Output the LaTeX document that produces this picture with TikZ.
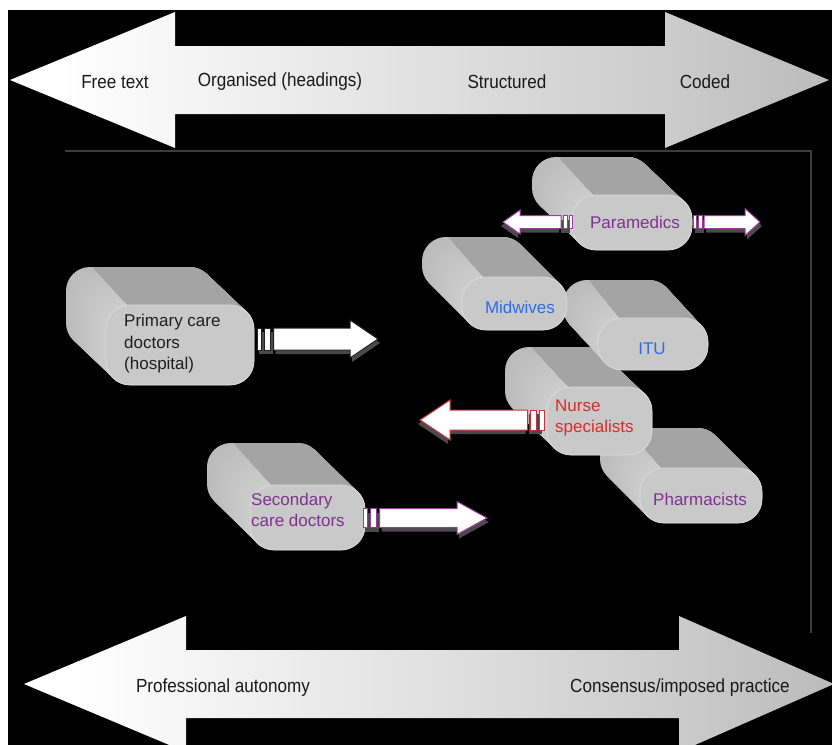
\documentclass[tikz,border=0pt]{standalone}
\usepackage{fontspec}
\setmainfont{Liberation Sans}
\newfontfamily\axisfont[FakeStretch=0.9]{Liberation Sans}
\usetikzlibrary{calc}

\definecolor{facegray}{HTML}{C9C9C9}
\definecolor{faceedge}{HTML}{DADADA}
\definecolor{topgray}{HTML}{A4A4A4}
\definecolor{sideback}{HTML}{BBBBBB}
\definecolor{sidefront}{HTML}{CDCDCD}
\definecolor{txtpurple}{HTML}{7E3290}
\definecolor{txtblue}{HTML}{2C6BF0}
\definecolor{txtred}{HTML}{DC2A2E}
\definecolor{arrpurple}{HTML}{9A3C9E}
\definecolor{arrred}{HTML}{C8303A}
\definecolor{arrdark}{HTML}{202020}
\definecolor{shadowgray}{HTML}{4A4A4A}
\definecolor{framegray}{HTML}{3C3C3C}

\pgfdeclarehorizontalshading{axisshade}{100bp}{color(0bp)=(white); color(28bp)=(white); color(65bp)=(white!80!black); color(100bp)=(white!57!black)}

\tikzset{
  face/.style={draw=faceedge, line width=0.8pt, fill=facegray, rounded corners=24pt,
               inner sep=0pt, outer sep=0pt, rectangle},
  lbl/.style={font=\fontsize{17}{21.5}\selectfont, inner sep=0pt},
  axlbl/.style={font=\axisfont\fontsize{19}{22}\selectfont, text=black!90, inner sep=0pt},
  framestyle/.style={draw=framegray, line width=1.2pt},
}

% #1 name, #2 x, #3 y, #4 w, #5 h, #6 dx, #7 dy
\newcommand\ehrblock[7]{%
  \foreach \k in {0,...,30}{%
    \pgfmathsetmacro\pp{100*\k/30}
    \fill[sidefront!\pp!sideback, rounded corners=24pt]
      ({#2-#6+#6*\k/30},{#3-#7+#7*\k/30}) rectangle ++(#4,#5);
  }
  \begin{scope}
    \clip ({#2-#6+22},{#3-#7-5}) -- ({#2+#4+20},{#3-#7-5}) -- ({#2+#4+20},{#3+#5}) -- ({#2+22},#3) -- cycle;
    \foreach \k in {0,...,30}{%
      \fill[topgray, rounded corners=24pt]
        ({#2-#6+#6*\k/30},{#3-#7+#7*\k/30}) rectangle ++(#4,#5);
    }
  \end{scope}
  \node[face, minimum width=#4pt, minimum height=#5pt, anchor=north west] (#1) at (#2,#3) {};
}

% #1 outline colour, #2 half shaft, #3 half head, #4 head length, #5 total length, #6 stripe scale
\newcommand\stripearrow[6]{%
  \fill[shadowgray] ({11*#6+2},{-#2+4}) -- ({#5-#4+2},{-#2+4}) -- ({#5-#4+2},{-#3+4}) -- ({#5+2},4)
     -- ({#5-#4+2},{#3+4}) -- ({#5-#4+2},{#2+4}) -- ({11*#6+2},{#2+4}) -- cycle;
  \fill[shadowgray] (2,{-#2+4}) rectangle ({9*#6+2},{#2+4});
  \filldraw[fill=white, draw=#1, line width=1pt] (0,-#2) rectangle ({3*#6},#2);
  \filldraw[fill=white, draw=#1, line width=1pt] ({5*#6},-#2) rectangle ({9*#6},#2);
  \filldraw[fill=white, draw=#1, line width=1pt] ({11*#6},-#2) -- ({#5-#4},-#2) -- ({#5-#4},-#3) -- (#5,0)
     -- ({#5-#4},#3) -- ({#5-#4},#2) -- ({11*#6},#2) -- cycle;
}

\begin{document}
\begin{tikzpicture}[x=1pt, y=-1pt]
\useasboundingbox (0,0) rectangle (832,744);
\clip (0,0) rectangle (832,744);
\fill[white] (0,0) rectangle (832,744);
\fill[black] (8,10) rectangle (834,746);

% axis arrows
\shade[shading=axisshade] (10,80) -- (175,12) -- (175,46) -- (665,46) -- (665,12) -- (829,80)
   -- (665,148) -- (665,114) -- (175,114) -- (175,148) -- cycle;
\shade[shading=axisshade] (24,684) -- (186,616) -- (186,650) -- (679,650) -- (679,616) -- (834,684)
   -- (679,752) -- (679,718) -- (186,718) -- (186,752) -- cycle;

\node[axlbl] (ax-free) at (115,82) {Free text};
\node[axlbl] (ax-org) at (280,82) {Organised (headings)};
\node[axlbl] (ax-struct) at (507,82) {Structured};
\node[axlbl] (ax-coded) at (705,82) {Coded};
\node[axlbl] (ax-auto) at (223,688) {Professional autonomy};
\node[axlbl] (ax-cons) at (680,688) {Consensus/imposed practice};

% frame
\coordinate (fr-a) at (65,151);
\coordinate (fr-b) at (811,151);
\coordinate (fr-c) at (811,633);
\draw[framestyle] (fr-a) -- (fr-b) -- (fr-c);

% blocks
\ehrblock{pharm}{640}{468}{122}{55}{40}{40}
\ehrblock{nurse}{547}{387}{105}{68}{42}{40}
\ehrblock{itu}{598}{318}{110}{52}{35}{38}
\ehrblock{midw}{462}{277}{105}{53}{40}{40}
\ehrblock{para}{572}{195}{120}{55}{40}{38}
\ehrblock{prim}{106}{305}{148}{80}{40}{38}
\ehrblock{sec}{250}{485}{115}{65}{43}{42}

% striped arrows
\coordinate (prim-as) at (257,339);
\coordinate (para-rs) at (693,222);
\coordinate (para-ls) at (572,222);
\coordinate (nurse-as) at (544,420);
\coordinate (sec-as) at (363,518);

\begin{scope}[shift={(prim-as)}]
  \stripearrow{arrdark}{11}{19}{28}{121}{1.5}
\end{scope}
\begin{scope}[shift={(para-rs)}]
  \stripearrow{arrpurple}{6.5}{13.5}{15}{67}{1}
\end{scope}
\begin{scope}[shift={(para-ls)}, xscale=-1]
  \stripearrow{arrpurple}{6.5}{12}{17}{69}{1}
\end{scope}
\begin{scope}[shift={(nurse-as)}, xscale=-1]
  \stripearrow{arrred}{10}{20}{30}{124}{1.5}
\end{scope}
\begin{scope}[shift={(sec-as)}]
  \stripearrow{arrpurple}{9.5}{16.5}{30}{124}{1.5}
\end{scope}

% labels
\node[lbl, text=black!88, align=left, anchor=west] (prim-t) at (124,344) {Primary care\\doctors\\(hospital)};
\node[lbl, text=txtpurple] (para-t) at (635,222) {Paramedics};
\node[lbl, text=txtblue] (midw-t) at (520,307) {Midwives};
\node[lbl, text=txtblue] (itu-t) at (652,349) {ITU};
\node[lbl, text=txtred, align=left, anchor=west] (nurse-t) at (555,418) {Nurse\\specialists};
\node[lbl, text=txtpurple] (pharm-t) at (700,499) {Pharmacists};
\node[lbl, text=txtpurple, align=left, anchor=west] (sec-t) at (251,510) {Secondary\\care doctors};
\end{tikzpicture}
\end{document}
